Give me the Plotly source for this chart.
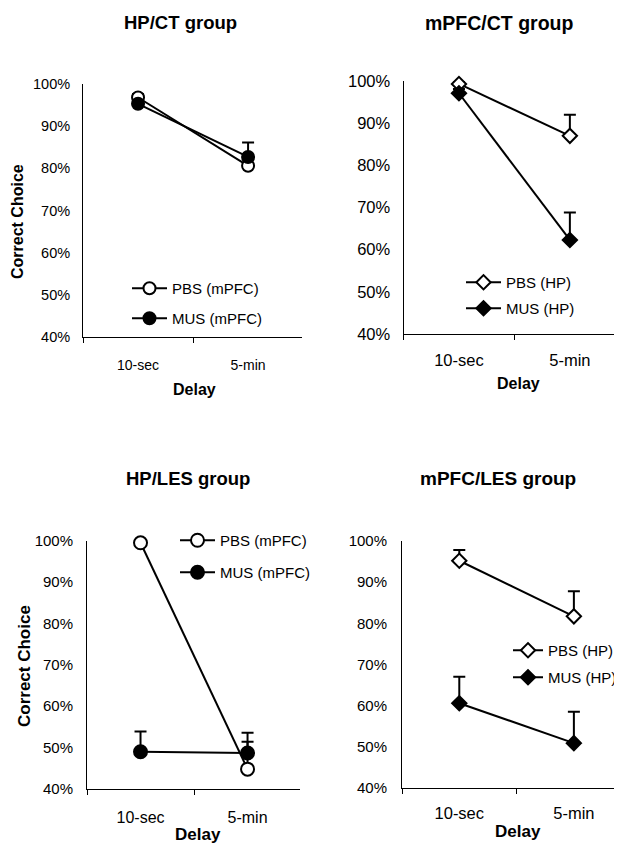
import plotly.graph_objects as go

# The page body has an 8px margin, so the figure is sized and laid out to fill the rest of the window
PAGE_W, PAGE_H = 622, 844
OFF = 8
W, H = PAGE_W - OFF, PAGE_H - OFF
FONT = "Liberation Sans, Arial, sans-serif"

categories = ["10-sec", "5-min"]
y_ticks = [40, 50, 60, 70, 80, 90, 100]
y_tick_labels = ["40%", "50%", "60%", "70%", "80%", "90%", "100%"]

# HP/CT group
hpct_pbs = [96.8, 80.6]
hpct_pbs_err = [0.8, 1.5]
hpct_mus = [95.3, 82.7]
hpct_mus_err = [0.8, 3.4]
# mPFC/CT group
mpfcct_pbs = [99.3, 87.0]
mpfcct_pbs_err = [0.5, 5.0]
mpfcct_mus = [97.1, 62.3]
mpfcct_mus_err = [1.0, 6.5]
# HP/LES group
hples_pbs = [99.5, 44.8]
hples_pbs_err = [0.3, 6.6]
hples_mus = [49.0, 48.7]
hples_mus_err = [4.9, 4.9]
# mPFC/LES group
mpfcles_pbs = [95.2, 81.7]
mpfcles_pbs_err = [2.6, 6.1]
mpfcles_mus = [60.6, 50.9]
mpfcles_mus_err = [6.4, 7.6]

titles = ["HP/CT group", "mPFC/CT group", "HP/LES group", "mPFC/LES group"]
names_mpfc = ["PBS (mPFC)", "MUS (mPFC)"]
names_hp = ["PBS (HP)", "MUS (HP)"]

fig = go.Figure()


def px_x(v):
    return min(1.0, max(0.0, (v - OFF) / W))


def px_y(v):
    return min(1.0, max(0.0, 1 - (v - OFF) / H))


panels = [
    ("x", "y", "legend", hpct_pbs, hpct_pbs_err, hpct_mus, hpct_mus_err, names_mpfc, "circle", 12),
    ("x2", "y2", "legend2", mpfcct_pbs, mpfcct_pbs_err, mpfcct_mus, mpfcct_mus_err, names_hp, "diamond", 11),
    ("x3", "y3", "legend3", hples_pbs, hples_pbs_err, hples_mus, hples_mus_err, names_mpfc, "circle", 13),
    ("x4", "y4", "legend4", mpfcles_pbs, mpfcles_pbs_err, mpfcles_mus, mpfcles_mus_err, names_hp, "diamond", 11),
]

for i, (xa, ya, lg, pbs, pbs_err, mus, mus_err, names, sym, sz) in enumerate(panels):
    for j, (vals, err, fill) in enumerate([(pbs, pbs_err, "white"), (mus, mus_err, "black")]):
        fig.add_trace(go.Scatter(
            x=categories, y=vals, name=names[j], xaxis=xa, yaxis=ya, legend=lg,
            legendgroup=f"g{i}{j}",
            mode="lines+markers",
            line=dict(color="black", width=2),
            marker=dict(symbol=sym, size=sz, color=fill, line=dict(color="black", width=2)),
            error_y=dict(type="data", array=err, arrayminus=[0, 0], symmetric=False,
                         color="black", thickness=2, width=6),
            cliponaxis=False,
        ))

# axis geometry (page pixels): x start, x end, y top(100%), y bottom(40%), x range end,
# x font, y font, x standoff, y standoff
geo = [
    (83, 302, 84, 337, 1.49, 14, 14.5, 15, 9),
    (403.5, 622, 81, 334, 1.47, 16.5, 16.5, 11, 9),
    (87, 300, 540.7, 789, 1.49, 16, 15, 14, 10),
    (402, 622, 541, 788, 1.42, 16.5, 15, 10, 11),
]

for k, (x0, x1, yt, yb, xr, xf, yf, xs, ys) in enumerate(geo):
    sfx = "" if k == 0 else str(k + 1)
    fig.layout["xaxis" + sfx] = dict(
        domain=[px_x(x0), px_x(x1)], range=[-0.5, xr], type="category",
        anchor="y" + sfx, showline=True, linecolor="black", linewidth=1,
        ticks="outside", ticklen=5, tickcolor="black", tickson="boundaries",
        showgrid=False, zeroline=False, ticklabelstandoff=xs, automargin=False,
        tickfont=dict(family=FONT, size=xf, color="black"), fixedrange=True,
    )
    fig.layout["yaxis" + sfx] = dict(
        domain=[px_y(yb), px_y(yt)], range=[40, 100], tickmode="array",
        tickvals=y_ticks, ticktext=y_tick_labels,
        anchor="x" + sfx, showline=True, linecolor="black", linewidth=1,
        ticks="", showgrid=False, zeroline=False, ticklabelstandoff=ys, automargin=False,
        tickfont=dict(family=FONT, size=yf, color="black"), fixedrange=True,
    )

# legend: x, y(top), xanchor, gap, font size, itemwidth  (page pixels)
legend_cfg = [
    (127, 272, "left", 7.5, 15, 35),
    (461, 266, "left", 3.5, 15, 35),
    (175, 524, "left", 9.5, 15, 35),
    (622, 634, "right", 4.5, 15, 30),
]
for k, (lx, ly, xa, gap, fs, iw) in enumerate(legend_cfg):
    key = "legend" if k == 0 else f"legend{k + 1}"
    fig.layout[key] = dict(
        x=px_x(lx), y=px_y(ly), xanchor=xa, yanchor="top",
        bgcolor="rgba(0,0,0,0)", font=dict(family=FONT, size=fs, color="black"),
        tracegroupgap=gap, itemwidth=iw,
    )

annotations = []
title_pos = [(180, 23, 18.5), (499, 23, 19.5), (188, 478, 18.5), (498, 478, 19)]
for t, (tx, ty, fs) in zip(titles, title_pos):
    annotations.append(dict(text=f"<b>{t}</b>", x=px_x(tx), y=px_y(ty), xref="paper", yref="paper",
                            showarrow=False, xanchor="center", yanchor="middle",
                            font=dict(family=FONT, size=fs, color="black")))
for (cx, cy, fs) in [(18, 222, 16), (24, 666, 17)]:
    annotations.append(dict(text="<b>Correct Choice</b>", x=px_x(cx), y=px_y(cy), xref="paper", yref="paper",
                            showarrow=False, textangle=-90, xanchor="center", yanchor="middle",
                            font=dict(family=FONT, size=fs, color="black")))
for (dx, dy, fs) in [(194, 389, 16), (518, 383, 16), (198, 834, 17), (518, 831, 17)]:
    annotations.append(dict(text="<b>Delay</b>", x=px_x(dx), y=px_y(dy), xref="paper", yref="paper",
                            showarrow=False, xanchor="center", yanchor="middle",
                            font=dict(family=FONT, size=fs, color="black")))

fig.update_layout(
    width=W, height=H, margin=dict(l=0, r=0, t=0, b=0, autoexpand=False),
    paper_bgcolor="white", plot_bgcolor="white",
    annotations=annotations, showlegend=True,
    font=dict(family=FONT, color="black"),
)

fig.write_html("out.html")
